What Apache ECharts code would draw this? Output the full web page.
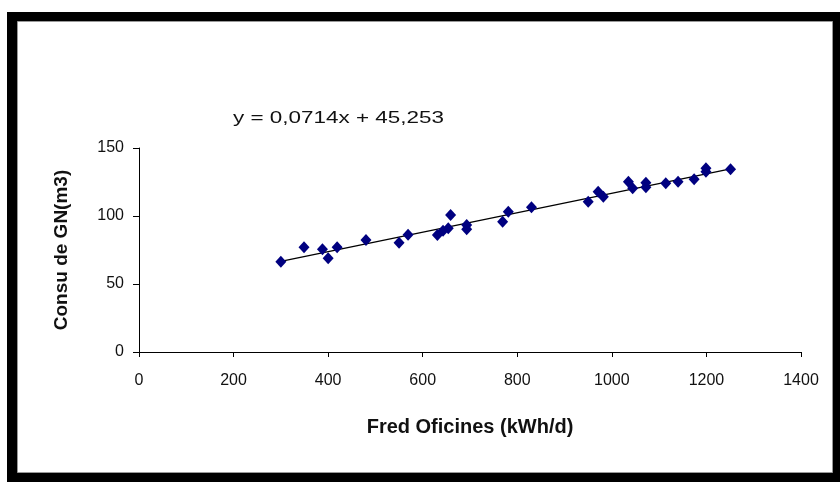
<!DOCTYPE html>
<html>
<head>
<meta charset="utf-8">
<script src="https://cdn.jsdelivr.net/npm/echarts@6/dist/echarts.min.js"></script>
<style>
html,body{margin:0;padding:0;background:#fff;}
#chart{width:840px;height:482px;}
</style>
</head>
<body>
<div id="chart"></div>
<script>
// Data
var fredOficines = [300, 349, 388, 400, 419, 480, 550, 569, 631, 643, 654, 659, 693, 693, 769, 781, 830, 950, 971, 982, 1035, 1044, 1072, 1072, 1114, 1140, 1174, 1199, 1199, 1251];
var consuGN = [66.4, 77.0, 75.5, 68.9, 77.0, 82.4, 80.4, 86.3, 86.0, 89.2, 91.0, 100.7, 93.4, 90.2, 95.8, 103.2, 106.4, 110.5, 117.9, 114.2, 125.2, 120.4, 124.5, 121.1, 124.0, 125.2, 127.0, 135.1, 132.6, 134.3];
var trendSlope = 0.0714;
var trendIntercept = 45.253;
var xTicks = [0, 200, 400, 600, 800, 1000, 1200, 1400];
var yTicks = [0, 50, 100, 150];
var xName = 'Fred Oficines (kWh/d)';
var yName = 'Consu de GN(m3)';

var points = fredOficines.map(function (x, i) { return [x, consuGN[i]]; });
var xMin = Math.min.apply(null, fredOficines);
var xMax = Math.max.apply(null, fredOficines);
var trend = [[xMin, trendSlope * xMin + trendIntercept], [xMax, trendSlope * xMax + trendIntercept]];
var eqText = 'y = ' + String(trendSlope).replace('.', ',') + 'x + ' + String(trendIntercept).replace('.', ',');

var chart = echarts.init(document.getElementById('chart'), null, {renderer: 'canvas'});
var font = 'Arial, "Liberation Sans", sans-serif';
chart.setOption({
  animation: false,
  backgroundColor: '#fff',
  graphic: [
    {type: 'rect', z: -10, shape: {x: 7, y: 12, width: 833, height: 470}, style: {fill: '#000'}},
    {type: 'rect', z: -9, shape: {x: 17.5, y: 21.5, width: 815, height: 451}, style: {fill: '#fff', stroke: '#999', lineWidth: 1}},
    {type: 'text', z: 10, x: 233, y: 118, scaleX: 1.32, originX: 0, originY: 0,
      style: {text: eqText, font: '17px ' + font, fill: '#111', verticalAlign: 'middle', align: 'left'}}
  ],
  grid: {left: 139, right: 39, top: 148, bottom: 130, containLabel: false},
  xAxis: {
    type: 'value', min: xTicks[0], max: xTicks[xTicks.length - 1], interval: xTicks[1] - xTicks[0],
    name: xName, nameLocation: 'middle', nameGap: 65,
    nameTextStyle: {fontFamily: font, fontWeight: 'bold', fontSize: 20, color: '#111'},
    axisLine: {show: true, onZero: false, lineStyle: {color: '#000', width: 1}},
    axisTick: {show: true, length: 5, lineStyle: {color: '#000'}},
    axisLabel: {fontFamily: font, fontSize: 16, color: '#111', margin: 21, formatter: function (v) { return String(v); }},
    splitLine: {show: false}
  },
  yAxis: {
    type: 'value', min: yTicks[0], max: yTicks[yTicks.length - 1], interval: yTicks[1] - yTicks[0],
    name: yName, nameLocation: 'middle', nameGap: 68, nameRotate: 90,
    nameTextStyle: {fontFamily: font, fontWeight: 'bold', fontSize: 19, color: '#111'},
    axisLine: {show: true, onZero: false, lineStyle: {color: '#000', width: 1}},
    axisTick: {show: true, length: 6, lineStyle: {color: '#000'}},
    axisLabel: {fontFamily: font, fontSize: 16, color: '#111', margin: 15, formatter: function (v) { return String(v); }},
    splitLine: {show: false}
  },
  series: [
    {
      type: 'line', data: trend, symbol: 'none', z: 2,
      lineStyle: {color: '#000', width: 1.3}
    },
    {
      type: 'scatter', data: points, symbol: 'diamond', symbolSize: [11, 12], z: 3,
      itemStyle: {color: '#000080', opacity: 1}
    }
  ]
});
</script>
</body>
</html>
